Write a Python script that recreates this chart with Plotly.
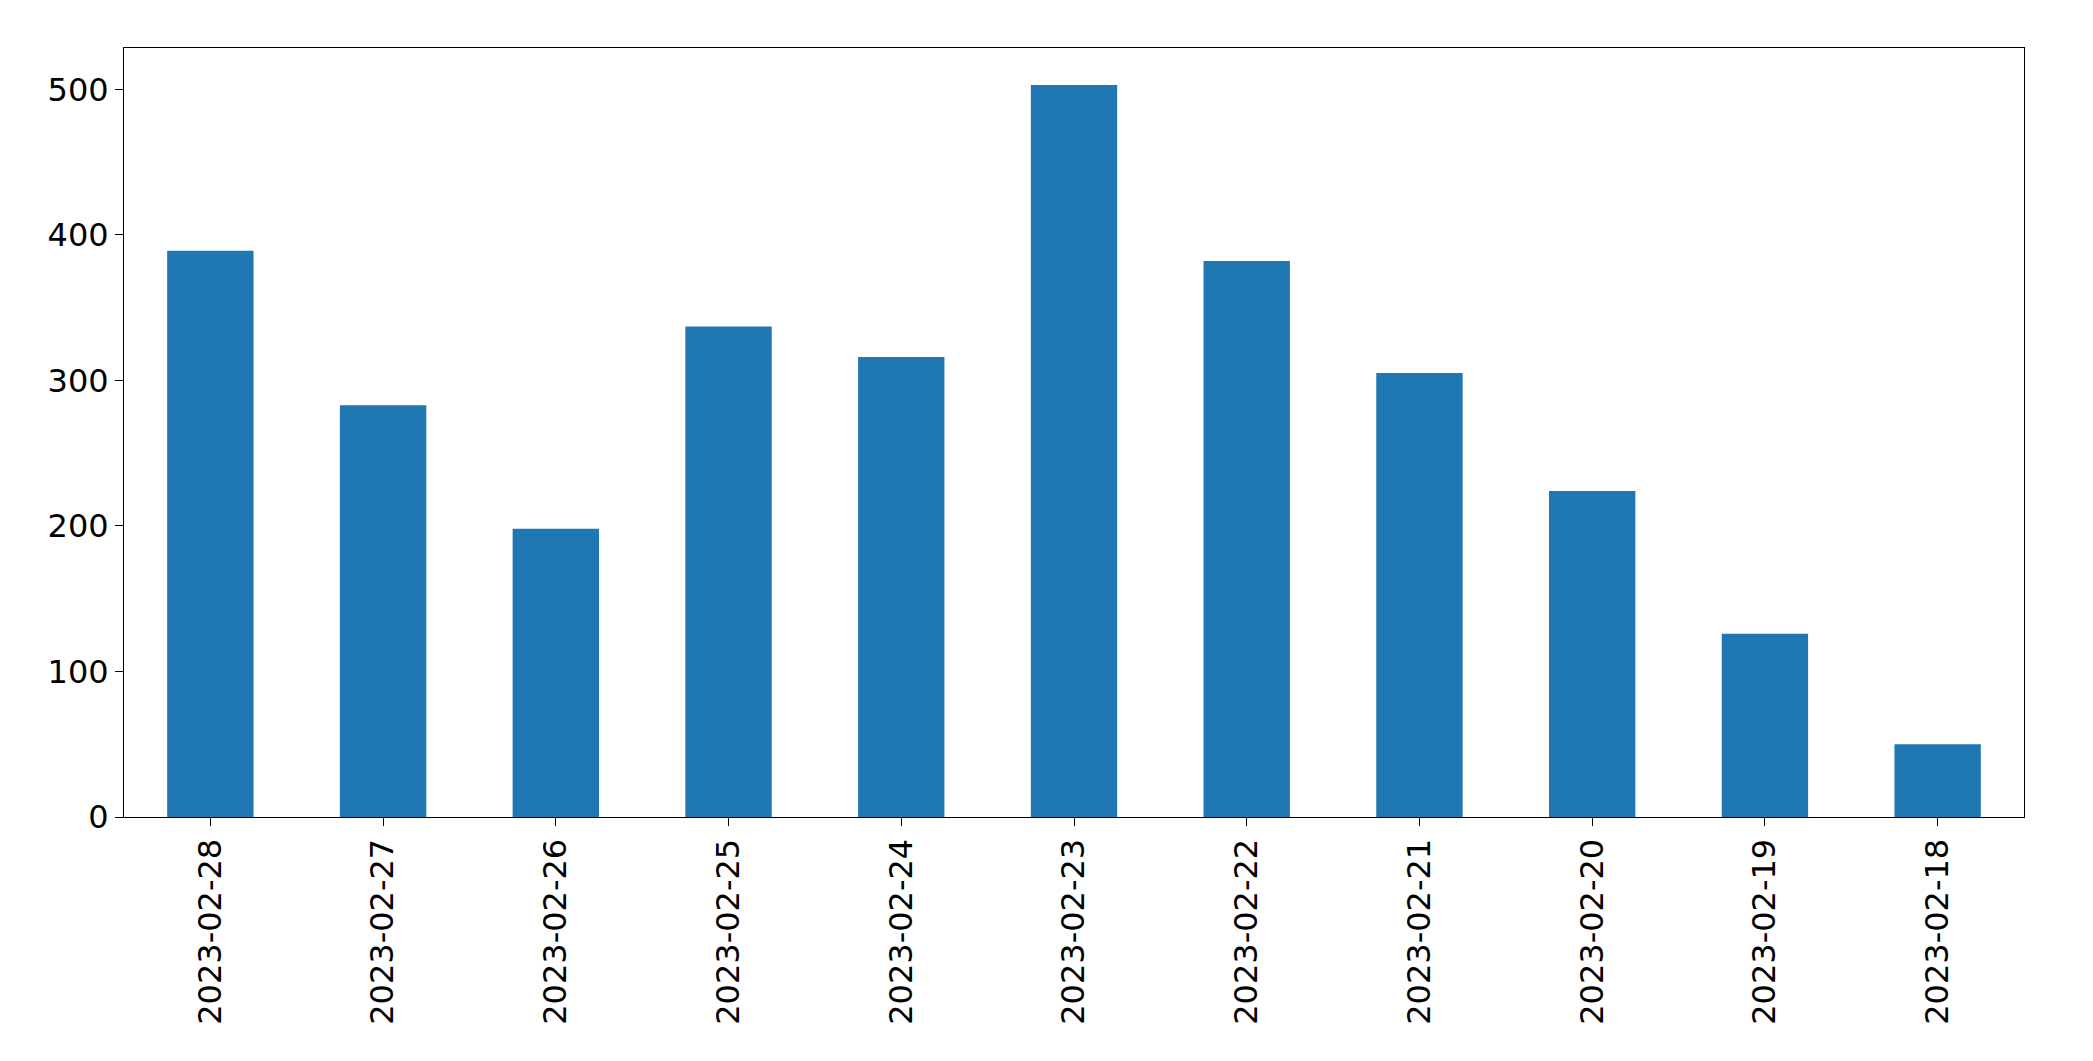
import plotly.graph_objects as go

dates = ["2023-02-28","2023-02-27","2023-02-26","2023-02-25","2023-02-24","2023-02-23",
         "2023-02-22","2023-02-21","2023-02-20","2023-02-19","2023-02-18"]
counts = [389, 283, 198, 337, 316, 503, 382, 305, 224, 126, 50]

fig = go.Figure(go.Bar(x=dates, y=counts, width=0.5, marker_color="#1f77b4", marker_line_width=0))
fig.update_layout(
    width=2093, height=1061, plot_bgcolor="white", paper_bgcolor="white",
    margin=dict(l=116, r=77, t=40, b=252),
    font=dict(family="DejaVu Sans", size=32, color="black"),
    showlegend=False,
)
fig.update_xaxes(type="category", range=[-0.5, 10.5], tickangle=-90, showline=True, mirror=True,
                 linecolor="black", linewidth=1, ticks="outside", ticklen=8, tickcolor="black", showgrid=False)
fig.update_yaxes(range=[0, 528.4], tickvals=[0,100,200,300,400,500], showline=True, mirror=True,
                 linecolor="black", linewidth=1, ticks="outside", ticklen=8, tickcolor="black",
                 showgrid=False, zeroline=False)
fig.write_html("out.html")
